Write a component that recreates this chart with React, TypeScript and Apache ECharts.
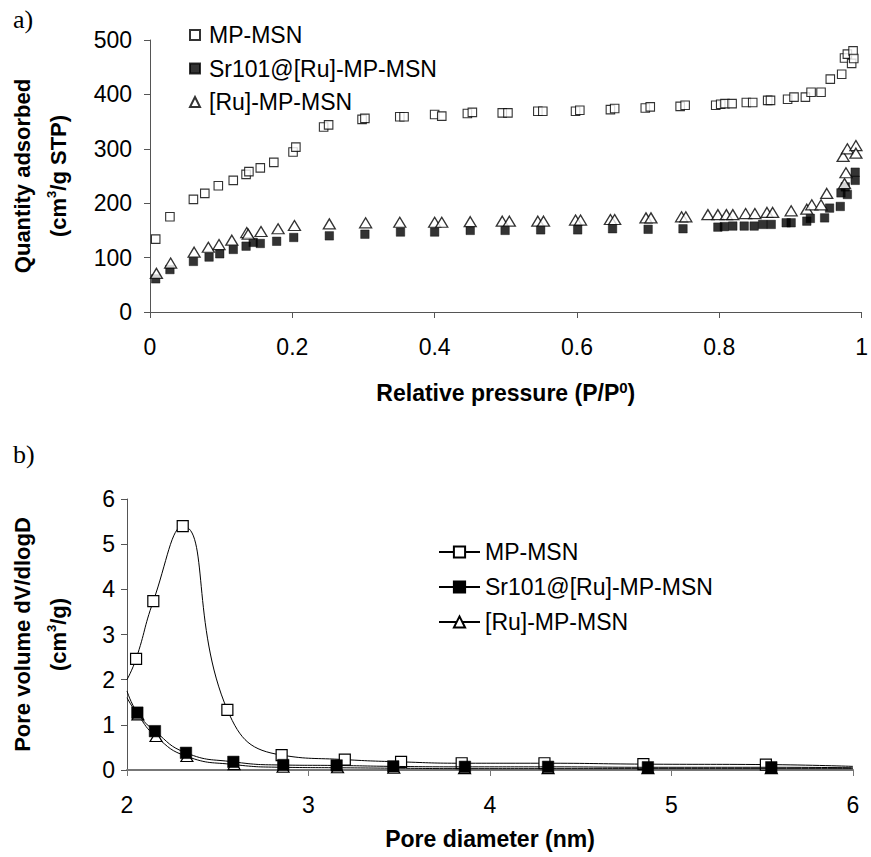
import React, { useEffect, useRef } from 'react';
import * as echarts from 'echarts';

// ---------- a) nitrogen isotherms ----------
const seriesNames = ['MP-MSN', 'Sr101@[Ru]-MP-MSN', '[Ru]-MP-MSN'];

const isoXTicks = [0, 0.2, 0.4, 0.6, 0.8, 1];
const isoYTicks = [0, 100, 200, 300, 400, 500];

const mpIsoX = [0.008, 0.028, 0.061, 0.077, 0.096, 0.117, 0.135, 0.139, 0.155, 0.174, 0.201, 0.205, 0.244, 0.251, 0.298, 0.302, 0.351, 0.357, 0.400, 0.410, 0.446, 0.453, 0.495, 0.503, 0.545, 0.552, 0.598, 0.604, 0.647, 0.653, 0.696, 0.703, 0.745, 0.752, 0.795, 0.802, 0.808, 0.818, 0.838, 0.847, 0.868, 0.872, 0.896, 0.905, 0.921, 0.929, 0.943, 0.956, 0.972, 0.976, 0.980, 0.986, 0.988, 0.989];
const mpIsoY = [134, 175, 207, 218, 232, 242, 253, 258, 265, 275, 294, 303, 340, 344, 354, 356, 359, 359, 363, 360, 365, 367, 366, 366, 369, 369, 369, 371, 372, 374, 375, 377, 378, 380, 380, 382, 383, 383, 385, 385, 389, 389, 391, 395, 395, 404, 404, 428, 437, 467, 474, 457, 480, 466];

const srIsoX = [0.008, 0.028, 0.061, 0.083, 0.098, 0.117, 0.135, 0.145, 0.155, 0.178, 0.202, 0.252, 0.302, 0.352, 0.400, 0.450, 0.499, 0.549, 0.601, 0.650, 0.700, 0.749, 0.798, 0.807, 0.819, 0.835, 0.849, 0.861, 0.873, 0.894, 0.901, 0.923, 0.928, 0.948, 0.955, 0.970, 0.971, 0.977, 0.980, 0.991, 0.991];
const srIsoY = [61, 78, 93, 101, 107, 115, 121, 128, 126, 130, 137, 140, 143, 147, 147, 150, 150, 151, 151, 153, 152, 153, 156, 157, 158, 158, 158, 161, 161, 164, 164, 167, 172, 173, 191, 194, 219, 230, 216, 242, 257];

const ruIsoX = [0.009, 0.029, 0.062, 0.082, 0.097, 0.115, 0.136, 0.138, 0.156, 0.180, 0.203, 0.252, 0.303, 0.351, 0.400, 0.410, 0.450, 0.495, 0.505, 0.545, 0.553, 0.598, 0.605, 0.647, 0.653, 0.697, 0.704, 0.747, 0.753, 0.784, 0.798, 0.810, 0.819, 0.837, 0.850, 0.867, 0.875, 0.901, 0.923, 0.930, 0.943, 0.951, 0.976, 0.978, 0.974, 0.980, 0.992, 0.992];
const ruIsoY = [71, 90, 110, 119, 124, 132, 146, 143, 148, 153, 159, 162, 164, 165, 165, 165, 166, 167, 167, 167, 167, 169, 169, 170, 170, 173, 173, 175, 175, 179, 179, 179, 179, 181, 181, 183, 183, 186, 189, 197, 197, 218, 236, 256, 286, 300, 306, 292];

// ---------- b) pore size distributions ----------
const psdXTicks = [2, 3, 4, 5, 6];
const psdYTicks = [0, 1, 2, 3, 4, 5, 6];
const psdEdgeX = [2, 6]; // where the smoothed curves enter / leave the plot

const mpPsdX = [2.05, 2.145, 2.307, 2.553, 2.852, 3.2, 3.51, 3.844, 4.3, 4.845, 5.52];
const mpPsdY = [2.46, 3.74, 5.4, 1.33, 0.33, 0.23, 0.18, 0.15, 0.15, 0.13, 0.12];
const mpPsdEdgeY = [2.0, 0.08];

const srPsdX = [2.057, 2.154, 2.325, 2.586, 2.861, 3.155, 3.467, 3.862, 4.32, 4.87, 5.55];
const srPsdY = [1.27, 0.86, 0.38, 0.18, 0.11, 0.1, 0.08, 0.07, 0.07, 0.06, 0.06];
const srPsdEdgeY = [1.75, 0.05];

const ruPsdX = [2.06, 2.16, 2.33, 2.59, 2.86, 3.16, 3.47, 3.86, 4.32, 4.87, 5.55];
const ruPsdY = [1.22, 0.74, 0.3, 0.12, 0.06, 0.05, 0.04, 0.03, 0.03, 0.03, 0.03];
const ruPsdEdgeY = [1.6, 0.03];

const FONT = '"Liberation Sans", Arial, sans-serif';
const TICK_SIZE = 23;

const pairs = (xs: number[], ys: number[]) => xs.map((x, i) => [x, ys[i]]);
const curve = (xs: number[], ys: number[], edge: number[]) => [
  { value: [psdEdgeX[0], edge[0]], symbol: 'none' },
  ...pairs(xs, ys),
  { value: [psdEdgeX[1], edge[1]], symbol: 'none' },
];

const titleRich = {
  t: { fontFamily: FONT, fontSize: 22, fontWeight: 'bold', color: '#000', lineHeight: 36 },
  s: { fontFamily: FONT, fontSize: 13, fontWeight: 'bold', color: '#000', lineHeight: 13, verticalAlign: 'middle', padding: [0, 0, 14, 0] },
};
const xTitleRich = {
  t: { fontFamily: FONT, fontSize: 23, fontWeight: 'bold', color: '#000', lineHeight: 24 },
  s: { fontFamily: FONT, fontSize: 15, fontWeight: 'bold', color: '#000', lineHeight: 15, verticalAlign: 'middle', padding: [0, 0, 12, 0] },
};

const axisCommon = (color: string, width: number) => ({
  axisLine: { show: true, lineStyle: { color, width } },
  axisTick: { show: true, length: 6, lineStyle: { color, width: 1 } },
  splitLine: { show: false },
});

const tickLabel = (margin: number) => ({ fontFamily: FONT, fontSize: TICK_SIZE, color: '#000', margin });

function isoOption(): any {
  return {
    animation: false,
    backgroundColor: '#fff',
    graphic: [
      { type: 'text', left: 13, top: 6, style: { text: 'a)', font: '26px "Liberation Serif", "Times New Roman", serif', fill: '#000' } },
    ],
    grid: { left: 150, top: 40, width: 714, height: 272 },
    legend: {
      orient: 'vertical',
      left: 184,
      top: 18,
      itemWidth: 10,
      itemHeight: 10,
      itemGap: 9.5,
      selectedMode: false,
      data: seriesNames,
      textStyle: { fontFamily: FONT, fontSize: 23, color: '#000', lineHeight: 24, padding: [0, 0, 0, 4] },
    },
    xAxis: {
      type: 'value',
      min: isoXTicks[0],
      max: isoXTicks[isoXTicks.length - 1],
      interval: isoXTicks[1] - isoXTicks[0],
      ...axisCommon('#555', 1),
      axisLabel: tickLabel(23),
      name: '{t|Relative pressure (P/P}{s|0}{t|)}',
      nameLocation: 'middle',
      nameGap: 69,
      nameTextStyle: { rich: xTitleRich },
    },
    yAxis: {
      type: 'value',
      min: isoYTicks[0],
      max: isoYTicks[isoYTicks.length - 1],
      interval: isoYTicks[1] - isoYTicks[0],
      ...axisCommon('#555', 1),
      axisLabel: tickLabel(18),
      name: '{t|Quantity adsorbed}\n{t|(cm}{s|3}{t|/g STP)}',
      nameLocation: 'middle',
      nameGap: 74,
      nameTextStyle: { rich: titleRich },
    },
    series: [
      {
        name: seriesNames[0], type: 'scatter', symbol: 'rect', symbolSize: 8.5,
        itemStyle: { color: '#fff', borderColor: '#000', borderWidth: 1.1 },
        data: pairs(mpIsoX, mpIsoY),
      },
      {
        name: seriesNames[1], type: 'scatter', symbol: 'rect', symbolSize: 8.5,
        itemStyle: { color: '#000', borderColor: '#000', borderWidth: 0.5 },
        data: pairs(srIsoX, srIsoY),
      },
      {
        name: seriesNames[2], type: 'scatter', symbol: 'triangle', symbolSize: [12, 10],
        itemStyle: { color: '#fff', borderColor: '#000', borderWidth: 1.3 },
        data: pairs(ruIsoX, ruIsoY),
      },
    ],
  };
}

function psdOption(): any {
  return {
    animation: false,
    backgroundColor: '#fff',
    graphic: [
      { type: 'text', left: 13, top: 11, style: { text: 'b)', font: '26px "Liberation Serif", "Times New Roman", serif', fill: '#000' } },
    ],
    grid: { left: 127, top: 69, width: 726, height: 271 },
    legend: {
      orient: 'vertical',
      left: 433,
      top: 105,
      itemWidth: 41,
      itemHeight: 14,
      itemGap: 11,
      selectedMode: false,
      data: seriesNames,
      textStyle: { fontFamily: FONT, fontSize: 23, color: '#000', lineHeight: 24 },
    },
    xAxis: {
      type: 'value',
      min: psdXTicks[0],
      max: psdXTicks[psdXTicks.length - 1],
      interval: psdXTicks[1] - psdXTicks[0],
      ...axisCommon('#777', 2),
      axisLabel: tickLabel(23),
      name: 'Pore diameter (nm)',
      nameLocation: 'middle',
      nameGap: 57,
      nameTextStyle: { fontFamily: FONT, fontSize: 23, fontWeight: 'bold', color: '#000', lineHeight: 24 },
    },
    yAxis: {
      type: 'value',
      min: psdYTicks[0],
      max: psdYTicks[psdYTicks.length - 1],
      interval: psdYTicks[1] - psdYTicks[0],
      ...axisCommon('#555', 1),
      axisLabel: tickLabel(12),
      name: '{t|Pore volume dV/dlogD}\n{t|(cm}{s|3}{t|/g)}',
      nameLocation: 'middle',
      nameGap: 51,
      nameTextStyle: { rich: titleRich },
    },
    series: [
      {
        name: seriesNames[0], type: 'line', smooth: 0.5, symbol: 'rect', symbolSize: 11, showAllSymbol: true,
        lineStyle: { color: '#000', width: 1 },
        itemStyle: { color: '#fff', borderColor: '#000', borderWidth: 1.2 },
        data: curve(mpPsdX, mpPsdY, mpPsdEdgeY), z: 2,
      },
      {
        name: seriesNames[1], type: 'line', smooth: 0.5, symbol: 'rect', symbolSize: 11.5, showAllSymbol: true,
        lineStyle: { color: '#000', width: 1 },
        itemStyle: { color: '#000', borderColor: '#000', borderWidth: 0.5 },
        data: curve(srPsdX, srPsdY, srPsdEdgeY), z: 4,
      },
      {
        name: seriesNames[2], type: 'line', smooth: 0.5, symbol: 'triangle', symbolSize: [12, 10], showAllSymbol: true,
        lineStyle: { color: '#000', width: 1 },
        itemStyle: { color: '#fff', borderColor: '#000', borderWidth: 1.2 },
        data: curve(ruPsdX, ruPsdY, ruPsdEdgeY), z: 3,
      },
    ],
  };
}

export default function App() {
  const topRef = useRef<HTMLDivElement>(null);
  const botRef = useRef<HTMLDivElement>(null);
  useEffect(() => {
    const c1 = echarts.init(topRef.current!, undefined, { renderer: 'svg' });
    const c2 = echarts.init(botRef.current!, undefined, { renderer: 'svg' });
    c1.setOption(isoOption());
    c2.setOption(psdOption());
    return () => {
      c1.dispose();
      c2.dispose();
    };
  }, []);
  return (
    <div style={{ position: 'absolute', left: 0, top: 0, width: 871, height: 857, background: '#fff' }}>
      <div ref={topRef} style={{ position: 'absolute', left: 0, top: 0, width: 871, height: 430 }} />
      <div ref={botRef} style={{ position: 'absolute', left: 0, top: 430, width: 871, height: 427 }} />
    </div>
  );
}
